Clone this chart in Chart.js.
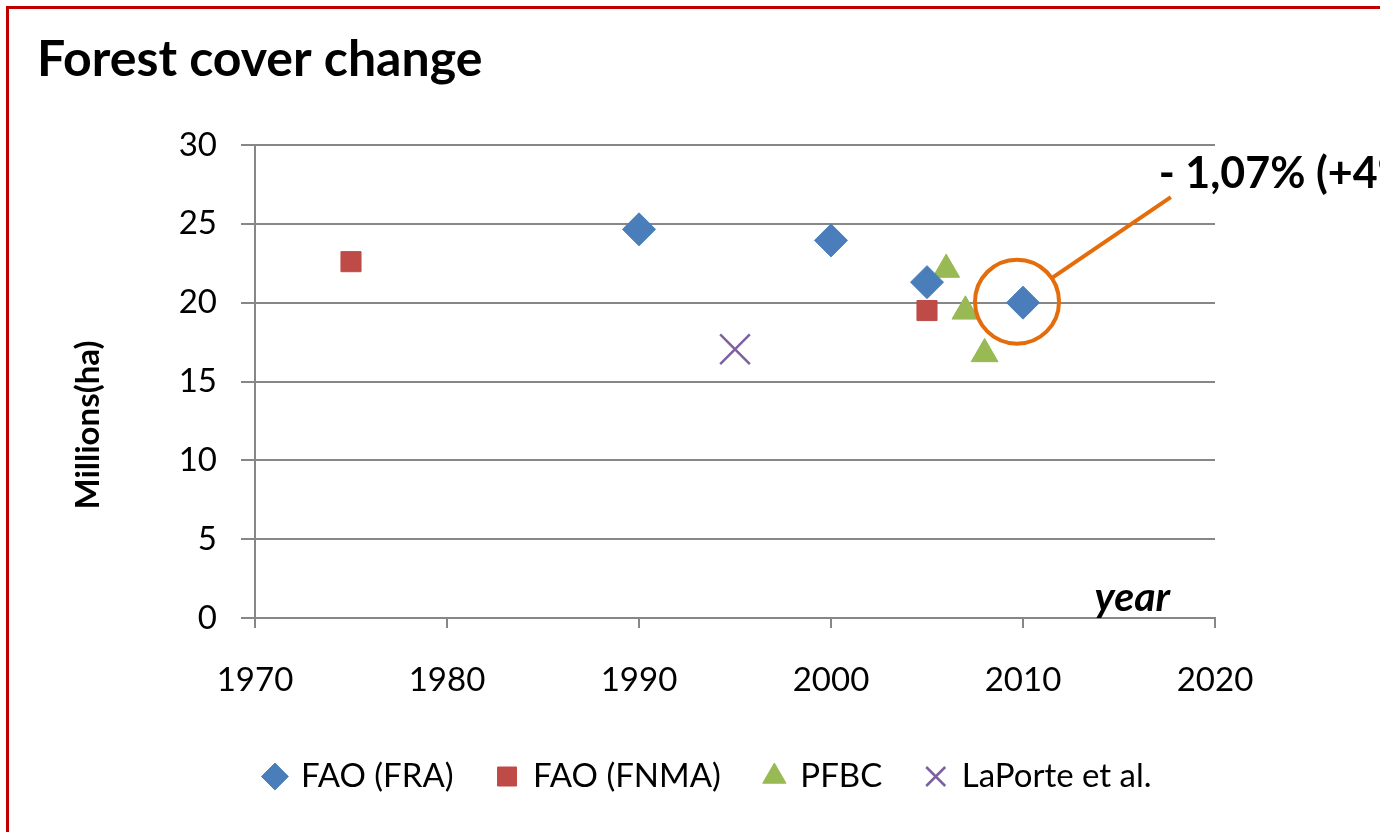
<!DOCTYPE html>
<html>
<head>
<meta charset="utf-8">
<title>Forest cover change</title>
<script src="https://cdn.jsdelivr.net/npm/chart.js@4.4.0/dist/chart.umd.min.js"></script>
<style>
    html, body { margin: 0; padding: 0; background: #fff; }
    #wrap { width: 1380px; height: 832px; }
</style>
</head>
<body>
<div id="wrap"><canvas id="forest-chart" width="1380" height="832"></canvas></div>
<script>
// Forest cover, millions of hectares, per source
const fraYears = [1990, 2000, 2005, 2010];
const fraValues = [24.65, 23.95, 21.3, 20.0];
const fnmaYears = [1975, 2005];
const fnmaValues = [22.6, 19.5];
const pfbcYears = [2006, 2007, 2008];
const pfbcValues = [22.1, 19.45, 16.75];
const laporteYears = [1995];
const laporteValues = [17.05];

const seriesLabels = ['FAO (FRA)', 'FAO (FNMA)', 'PFBC', 'LaPorte et al.'];
const xTicks = [1970, 1980, 1990, 2000, 2010, 2020];
const yTicks = [0, 5, 10, 15, 20, 25, 30];

const titleText = 'Forest cover change';
const yTitleText = 'Millions(ha)';
const xTitleText = 'year';
const calloutText = '- 1,07% (+4%)';
const calloutEnd = [2017.7, 26.7];   // where the callout line ends (year, Mha)

const GRID = '#878787';
const ORANGE = '#e46c0a';
const FONT = "Lato, 'Open Sans', sans-serif";

Chart.defaults.font.family = FONT;
Chart.defaults.color = '#000';

function points(xs, ys) {
    return xs.map((x, i) => ({ x: x, y: ys[i] }));
}

/**
 * Background, red frame, axis captions and the 2010 callout
 */
const decorPlugin = {
    id: 'decor',
    beforeDraw(chart) {
        const ctx = chart.ctx;
        ctx.save();
        ctx.fillStyle = '#fff';
        ctx.fillRect(0, 0, chart.width, chart.height);
        ctx.restore();
    },
    afterDraw(chart) {
        const { ctx, chartArea } = chart;
        const x = chart.scales.x;
        const y = chart.scales.y;
        ctx.save();

        // y axis caption
        ctx.translate(88, 425);
        ctx.rotate(-Math.PI / 2);
        ctx.fillStyle = '#000';
        ctx.font = 'bold 33px ' + FONT;
        ctx.textAlign = 'center';
        ctx.textBaseline = 'middle';
        ctx.fillText(yTitleText, 0, 0);
        ctx.setTransform(1, 0, 0, 1, 0, 0);

        // "year" inside the plot
        ctx.font = 'italic bold 41px ' + FONT;
        ctx.textAlign = 'right';
        ctx.textBaseline = 'alphabetic';
        ctx.fillText(xTitleText, chartArea.right - 45, chartArea.bottom - 7);

        // circle round the last FRA point + callout line
        const last = fraYears.length - 1;
        const cx = x.getPixelForValue(fraYears[last]) - 6;
        const cy = y.getPixelForValue(fraValues[last]) - 1;
        const r = 42;
        const ex = x.getPixelForValue(calloutEnd[0]);
        const ey = y.getPixelForValue(calloutEnd[1]);
        const ang = Math.atan2(ey - cy, ex - cx);
        ctx.strokeStyle = ORANGE;
        ctx.lineWidth = 4;
        ctx.beginPath();
        ctx.arc(cx, cy, r, 0, Math.PI * 2);
        ctx.stroke();
        ctx.beginPath();
        ctx.moveTo(cx + r * Math.cos(ang), cy + r * Math.sin(ang));
        ctx.lineTo(ex, ey);
        ctx.stroke();

        ctx.font = 'bold 43px ' + FONT;
        ctx.textAlign = 'left';
        ctx.fillText(calloutText, ex - 12, ey - 9);

        // red frame (only left and top edges are in view)
        ctx.strokeStyle = '#c00000';
        ctx.lineWidth = 3;
        ctx.beginPath();
        ctx.moveTo(7.5, chart.height);
        ctx.lineTo(7.5, 7.5);
        ctx.lineTo(chart.width, 7.5);
        ctx.stroke();

        ctx.restore();
    }
};

const ctx = document.getElementById('forest-chart').getContext('2d');

new Chart(ctx, {
    type: 'scatter',
    data: {
        datasets: [
            {
                label: seriesLabels[0],
                data: points(fraYears, fraValues),
                pointStyle: 'rectRot',
                pointRadius: 16.5,
                pointHoverRadius: 16.5,
                backgroundColor: '#4a7ebb',
                borderColor: '#4a7ebb',
                borderWidth: 1
            },
            {
                label: seriesLabels[1],
                data: points(fnmaYears, fnmaValues),
                pointStyle: 'rect',
                pointRadius: 14.2,
                pointHoverRadius: 14.2,
                backgroundColor: '#be4b48',
                borderColor: '#be4b48',
                borderWidth: 1
            },
            {
                label: seriesLabels[2],
                data: points(pfbcYears, pfbcValues),
                pointStyle: 'triangle',
                pointRadius: 15.5,
                pointHoverRadius: 15.5,
                backgroundColor: '#98b954',
                borderColor: '#98b954',
                borderWidth: 1
            },
            {
                label: seriesLabels[3],
                data: points(laporteYears, laporteValues),
                pointStyle: 'crossRot',
                pointRadius: 21,
                pointHoverRadius: 21,
                backgroundColor: '#7d60a0',
                borderColor: '#7d60a0',
                borderWidth: 2.5
            }
        ]
    },
    options: {
        responsive: false,
        animation: false,
        devicePixelRatio: 1,
        layout: {
            padding: { left: 37, right: 0, top: 0, bottom: 29 }
        },
        plugins: {
            title: {
                display: true,
                text: titleText,
                align: 'start',
                color: '#000',
                font: { size: 50, weight: 'bold' },
                padding: { top: 30, bottom: 55 }
            },
            legend: {
                position: 'bottom',
                labels: {
                    usePointStyle: true,
                    boxWidth: 19,
                    boxHeight: 19,
                    padding: 44,
                    color: '#000',
                    font: { size: 33 }
                }
            },
            tooltip: { enabled: false }
        },
        scales: {
            x: {
                type: 'linear',
                position: 'bottom',
                min: xTicks[0],
                max: xTicks[xTicks.length - 1],
                afterBuildTicks: s => { s.ticks = xTicks.map(v => ({ value: v })); },
                afterFit: s => { s.height = 98; },
                ticks: {
                    callback: v => String(v),
                    color: '#000',
                    font: { size: 33 },
                    padding: 33
                },
                grid: {
                    drawOnChartArea: false,
                    color: GRID,
                    lineWidth: 2,
                    tickLength: 10
                },
                border: { color: GRID, width: 2 }
            },
            y: {
                min: yTicks[0],
                max: yTicks[yTicks.length - 1],
                afterBuildTicks: s => { s.ticks = yTicks.map(v => ({ value: v })); },
                afterFit: s => { s.width = 218; },
                ticks: {
                    color: '#000',
                    font: { size: 33 },
                    padding: 24
                },
                grid: {
                    color: GRID,
                    lineWidth: 2,
                    tickLength: 14
                },
                border: { color: GRID, width: 2 }
            },
            // empty right-hand gutter so the plot ends at 2020 while the legend stays centred
            gutter: {
                type: 'linear',
                position: 'right',
                grid: { display: false },
                border: { display: false },
                ticks: { display: false },
                afterFit: s => { s.width = 165; }
            }
        }
    },
    plugins: [decorPlugin]
});
</script>
</body>
</html>
